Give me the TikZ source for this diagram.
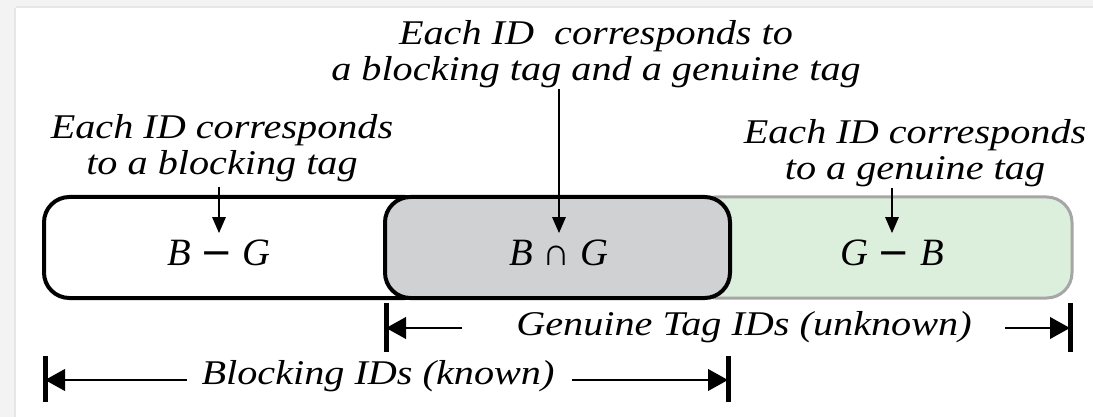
\documentclass[tikz,border=0pt]{standalone}
\usepackage{fontspec}
\setmainfont{Liberation Serif}[FakeStretch=1.16]
\newfontfamily\formfont{Liberation Serif}
\newfontfamily\minusfont{DejaVu Sans}
\usetikzlibrary{arrows.meta}
\definecolor{strip}{HTML}{F3F3F3}
\definecolor{stripline}{HTML}{E6E6E6}
\definecolor{interfill}{HTML}{D0D1D3}
\definecolor{genfill}{HTML}{DCEEDC}
\definecolor{genline}{HTML}{A6A6A6}
\begin{document}
\begin{tikzpicture}[x=0.75pt, y=-0.75pt,
		setbox/.style={rounded corners=19pt, minimum height=75.75pt, inner sep=0pt},
		note/.style={align=center, inner sep=0pt, anchor=north, font=\fontsize{26}{27.5}\selectfont\itshape},
		dimtext/.style={inner sep=0pt, font=\fontsize{26}{27.5}\selectfont\itshape},
		form/.style={inner sep=5pt, font=\formfont\fontsize{29}{29}\selectfont},
		pointer/.style={-{Triangle[length=12pt, width=10pt]}, line width=1.5pt},
		dim/.style={-{Triangle[length=15pt, width=16pt]}, line width=2.2pt},
		bar/.style={line width=3.75pt}]
				\useasboundingbox (0,0) rectangle (1093,417);
				\fill[strip] (0,0) rectangle (1093,417);
				\fill[white] (16,8) rectangle (1093,417);
				\draw[stripline, line width=1.5pt] (16,7) -- (1093,7);
				\draw[stripline, line width=1.5pt] (15,8) -- (15,417);
				\node[setbox, draw=black, line width=3pt, fill=white, minimum width=289.5pt] (boxB) at (237,247.5) {};
				\node[setbox, draw=genline, line width=2.25pt, fill=genfill, minimum width=286.5pt] (boxG) at (881,247.5) {};
				\node[setbox, draw=black, line width=3pt, fill=interfill, minimum width=258.75pt] (boxBG) at (557.5,247.5) {};
				\node[form] (BG) at (219,253) {\textit{B} {\minusfont −} \textit{G}};
				\node[form] (BnG) at (559,253) {\textit{B} ∩ \textit{G}};
				\node[form] (GB) at (892,253) {\textit{G} {\minusfont −} \textit{B}};
				\node[note] (lblB) at (222,114) {Each ID corresponds\\to a blocking tag};
				\node[note] (lblBG) at (596,20) {Each ID~ corresponds to\\a blocking tag and a genuine tag};
				\node[note] (lblG) at (915,119) {Each ID corresponds\\to a genuine tag};
				\draw[pointer, shorten <=3pt] (lblB.south -| BG.north) -- (BG.north);
				\draw[pointer] (lblBG.south -| BnG.north) -- (BnG.north);
				\draw[pointer] (lblG.south -| GB.north) -- (GB.north);
				\coordinate (gL) at (386,328);
				\coordinate (gR) at (1070,328);
				\coordinate (gLs) at (462,328);
				\coordinate (gRs) at (1005,328);
				\coordinate (bL) at (45,380);
				\coordinate (bR) at (728,380);
				\coordinate (bLs) at (187,380);
				\coordinate (bRs) at (572,380);
				\node[dimtext] (gtxt) at (744,327) {Genuine Tag IDs (unknown)};
				\node[dimtext] (btxt) at (378,376) {Blocking IDs (known)};
				\draw[dim] (gLs) -- (gL);
				\draw[dim] (gRs) -- (gR);
				\draw[dim] (bLs) -- (bL);
				\draw[dim] (bRs) -- (bR);
				\foreach \c in {gL, gR} {
					\draw[bar] (\c) ++(0,-25) -- ++(0,49);
				}
				\foreach \c in {bL, bR} {
					\draw[bar] (\c) ++(0,-24) -- ++(0,46);
				}
			\end{tikzpicture}
\end{document}
